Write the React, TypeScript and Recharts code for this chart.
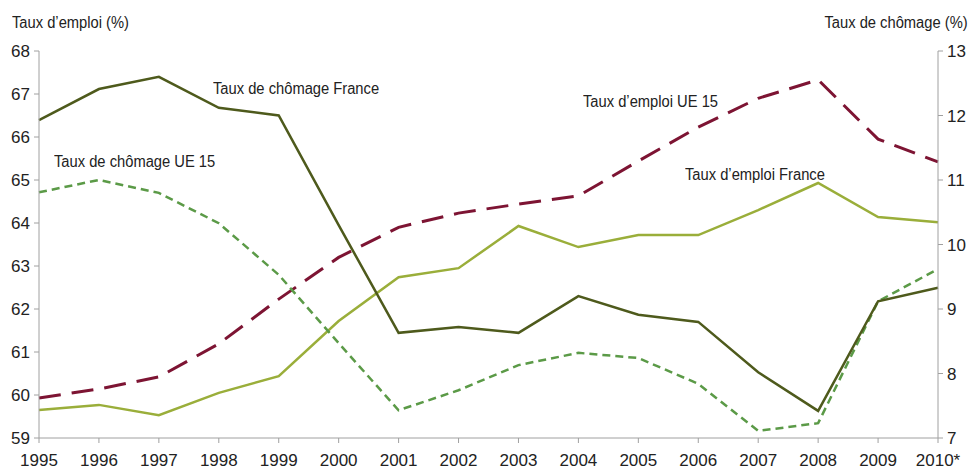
import { LineChart, Line, XAxis, YAxis } from "recharts";

// Années (2010 = estimation)
const years = ["1995", "1996", "1997", "1998", "1999", "2000", "2001", "2002", "2003", "2004", "2005", "2006", "2007", "2008", "2009", "2010*"];

// Taux d'emploi (%) - axe de gauche
const emploiUE15 = [59.93, 60.14, 60.42, 61.19, 62.23, 63.2, 63.9, 64.23, 64.44, 64.63, 65.44, 66.23, 66.9, 67.33, 65.95, 65.42];
const emploiFrance = [59.65, 59.77, 59.53, 60.05, 60.44, 61.72, 62.74, 62.95, 63.93, 63.44, 63.72, 63.72, 64.3, 64.93, 64.14, 64.02];

// Taux de chômage (%) - axe de droite
const chomageFrance = [11.93, 12.41, 12.6, 12.12, 12.0, 10.3, 8.63, 8.72, 8.63, 9.2, 8.91, 8.8, 8.02, 7.42, 9.12, 9.33];
const chomageUE15 = [10.81, 11.0, 10.8, 10.33, 9.53, 8.47, 7.43, 7.74, 8.13, 8.32, 8.24, 7.84, 7.11, 7.23, 9.12, 9.62];

const leftTicks = [59, 60, 61, 62, 63, 64, 65, 66, 67, 68];
const rightTicks = [7, 8, 9, 10, 11, 12, 13];

const data = years.map((year, i) => ({
  year,
  emploiUE15: emploiUE15[i],
  emploiFrance: emploiFrance[i],
  chomageFrance: chomageFrance[i],
  chomageUE15: chomageUE15[i],
}));

const FONT = "'Liberation Sans Narrow', 'Liberation Sans', Arial, sans-serif";
const tickStyle = { fill: "#222", fontSize: 17, fontFamily: FONT };
const axisColor = "#a0a0a0";

const labelStyle: React.CSSProperties = {
  position: "absolute",
  fontFamily: FONT,
  fontSize: 16,
  color: "#222",
  whiteSpace: "nowrap",
  lineHeight: "18px",
  transform: "scaleX(0.92)",
  transformOrigin: "left center",
};

export default function App() {
  return (
    <div style={{ position: "absolute", left: 0, top: 0, width: 969, height: 470, background: "#fff" }}>
      <LineChart width={969} height={470} data={data} margin={{ top: 51, right: 0, bottom: 0, left: 0 }}>
        <XAxis
          dataKey="year"
          height={32}
          tick={tickStyle}
          tickSize={5}
          stroke={axisColor}
          interval={0}
          tickMargin={11}
        />
        <YAxis
          yAxisId="left"
          orientation="left"
          width={39}
          domain={[59, 68]}
          ticks={leftTicks}
          tick={tickStyle}
          tickSize={5}
          tickMargin={4}
          stroke={axisColor}
          allowDataOverflow
        />
        <YAxis
          yAxisId="right"
          orientation="right"
          width={31}
          domain={[7, 13]}
          ticks={rightTicks}
          tick={tickStyle}
          tickSize={5}
          tickMargin={4}
          stroke={axisColor}
          allowDataOverflow
        />
        <Line yAxisId="left" dataKey="emploiUE15" stroke="#7d1433" strokeWidth={3} strokeDasharray="22 11" dot={false} isAnimationActive={false} />
        <Line yAxisId="left" dataKey="emploiFrance" stroke="#9aae3a" strokeWidth={2.5} dot={false} isAnimationActive={false} />
        <Line yAxisId="right" dataKey="chomageUE15" stroke="#5b9a47" strokeWidth={2.5} strokeDasharray="8 5" dot={false} isAnimationActive={false} />
        <Line yAxisId="right" dataKey="chomageFrance" stroke="#4e5a1c" strokeWidth={2.5} dot={false} isAnimationActive={false} />
      </LineChart>

      <div style={{ ...labelStyle, left: 12, top: 14 }}>Taux d’emploi (%)</div>
      <div style={{ ...labelStyle, right: 1, top: 14, transformOrigin: "right center" }}>Taux de chômage (%)</div>
      <div style={{ ...labelStyle, left: 213, top: 80 }}>Taux de chômage France</div>
      <div style={{ ...labelStyle, left: 54, top: 153 }}>Taux de chômage UE 15</div>
      <div style={{ ...labelStyle, left: 583, top: 93 }}>Taux d’emploi UE 15</div>
      <div style={{ ...labelStyle, left: 685, top: 166 }}>Taux d’emploi France</div>
    </div>
  );
}
